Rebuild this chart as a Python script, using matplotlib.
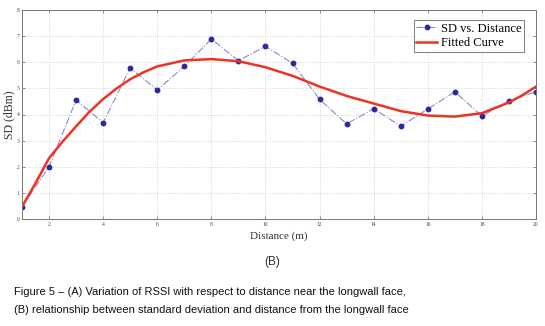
import numpy as np
import matplotlib.pyplot as plt

# data
distance = [1, 2, 3, 4, 5, 6, 7, 8, 9, 10, 11, 12, 13, 14, 15, 16, 17, 18, 19, 20]
sd = [0.47, 2.0, 4.55, 3.69, 5.78, 4.94, 5.84, 6.89, 6.06, 6.61,
      5.96, 4.58, 3.64, 4.22, 3.55, 4.21, 4.87, 3.94, 4.52, 4.87]

fit_x = [1, 1.5, 2, 2.5, 3, 3.5, 4, 4.5, 5, 5.5, 6, 7, 8, 9, 10, 11, 12, 13, 14, 15,
         16, 17, 18, 19, 19.5, 20]
fit_y = [0.47, 1.37, 2.33, 2.96, 3.55, 4.11, 4.59, 5.0, 5.35, 5.62, 5.84, 6.07, 6.12,
         6.04, 5.81, 5.48, 5.07, 4.71, 4.42, 4.13, 3.96, 3.92, 4.05, 4.46, 4.74, 5.07]

xticks = [2, 4, 6, 8, 10, 12, 14, 16, 18, 20]
yticks = [0, 1, 2, 3, 4, 5, 6, 7, 8]

caption = ("Figure 5 \u2013 (A) Variation of RSSI with respect to distance near the longwall face,\n"
           "(B) relationship between standard deviation and distance from the longwall face")

# =========================================
# PLOT
# =========================================
fig = plt.figure(figsize=(5.45, 3.26), dpi=100)
ax = fig.add_axes([22 / 545, 1 - 219 / 326, 514 / 545, 209 / 326])

ax.plot(distance, sd, linestyle="-.", color="#8a8ac8", linewidth=0.8,
        marker="o", markersize=3.2, markerfacecolor="#2a2a9a",
        markeredgecolor="#2a2a9a", label="SD vs. Distance")
ax.plot(fit_x, fit_y, color="#ee3322", linewidth=1.8, label="Fitted Curve",
        solid_joinstyle="round")

ax.set_xlim(1, 20)
ax.set_ylim(0, 8)
ax.set_xticks(xticks)
ax.set_yticks(yticks)
ax.tick_params(labelsize=4, length=2, width=0.5, color="#666666",
               pad=2, direction="in", top=True, right=True)
for lab in ax.get_xticklabels() + ax.get_yticklabels():
    lab.set_fontfamily("Liberation Serif")
    lab.set_color("#444444")
ax.grid(True, linestyle=":", color="#cccccc", linewidth=0.6)
for sp in ax.spines.values():
    sp.set_color("#777777")
    sp.set_linewidth(0.7)

ax.set_xlabel("Distance (m)", fontsize=8, family="Liberation Serif",
              color="#333333", labelpad=3)
ax.set_ylabel("SD (dBm)", fontsize=8.5, family="Liberation Serif",
              color="#333333", labelpad=1)

leg = ax.legend(loc="upper right", prop={"family": "Liberation Serif", "size": 9},
                fancybox=False, framealpha=1, edgecolor="#666666",
                borderpad=0.2, handlelength=1.7, handletextpad=0.3,
                labelspacing=0.2, bbox_to_anchor=(524 / 545, 1 - 20 / 326),
                bbox_transform=fig.transFigure, borderaxespad=0)
leg.get_frame().set_linewidth(0.6)

fig.text(272 / 545, 1 - 262 / 326, "(B)", ha="center", va="center",
         fontsize=8.5, family="Liberation Sans", color="#333333")
fig.text(14 / 545, 1 - 301 / 326, caption, ha="left", va="center",
         fontsize=8, family="Liberation Sans", color="#111111",
         linespacing=2.1)

fig.savefig("out.png", dpi=100)
